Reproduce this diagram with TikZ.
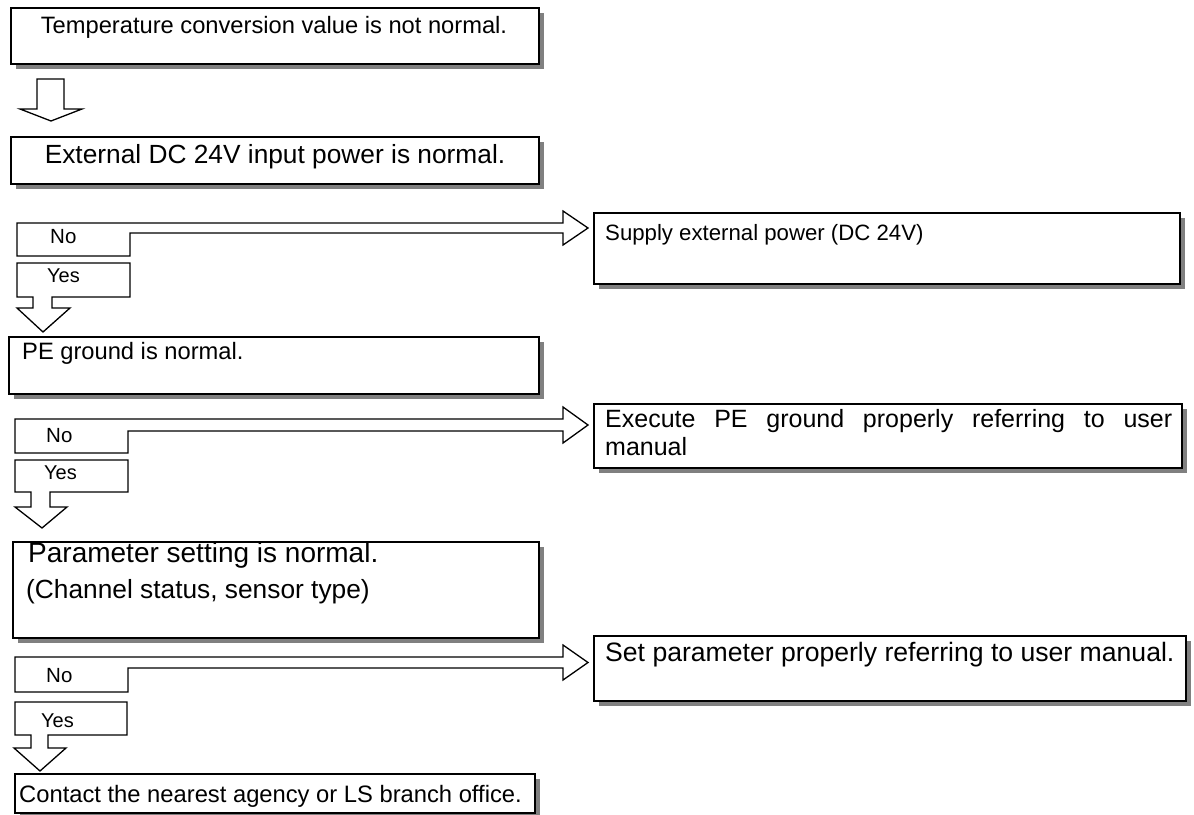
\documentclass[tikz,border=0pt]{standalone}
\usepackage{fontspec}
\setmainfont{Liberation Sans}
\usetikzlibrary{shadows}
\begin{document}
\begin{tikzpicture}[x=1pt,y=-1pt,
  box/.style={draw=black, line width=1.6pt, fill=white, rectangle, anchor=north west, inner sep=0pt,
    drop shadow={shadow xshift=5pt, shadow yshift=-5pt, fill=black!50, opacity=1}},
  blockarrow/.style={draw=black, line width=1.3pt, fill=white, line join=miter},
  txt/.style={inner sep=0pt, anchor=base west},
  ctxt/.style={inner sep=0pt, anchor=base}]
\useasboundingbox (0,0) rectangle (1194,814);

% boxes
\node[box, minimum width=528pt, minimum height=56pt] (b1) at (10,7) {};
\node[box, minimum width=528pt, minimum height=47pt] (b2) at (10,136) {};
\node[box, minimum width=586pt, minimum height=71pt] (s1) at (593,212) {};
\node[box, minimum width=530pt, minimum height=57pt] (b3) at (8,336) {};
\node[box, minimum width=588pt, minimum height=64pt] (s2) at (593,403) {};
\node[box, minimum width=526pt, minimum height=96pt] (b4) at (12,541) {};
\node[box, minimum width=592pt, minimum height=65pt] (s3) at (593,635) {};
\node[box, minimum width=520pt, minimum height=39pt] (b5) at (14,773) {};

% texts
\node[ctxt, font=\fontsize{23.7}{28}\selectfont] (t1) at (274,33) {Temperature conversion value is not normal.};
\node[ctxt, font=\fontsize{26.3}{30}\selectfont] (t2) at (275,163) {External DC 24V input power is normal.};
\node[txt, font=\fontsize{22.2}{26}\selectfont] (ts1) at (605,240) {Supply external power (DC 24V)};
\node[txt, font=\fontsize{23.7}{28}\selectfont] (t3) at (22,359) {PE ground is normal.};
\node[txt, font=\fontsize{25}{28}\selectfont] (ts2a) at (605,427) {\makebox[567pt][s]{Execute PE ground properly referring to user}};
\node[txt, font=\fontsize{25}{28}\selectfont] (ts2b) at (605,455) {manual};
\node[txt, font=\fontsize{28}{32}\selectfont] (t4a) at (28,562) {Parameter setting is normal.};
\node[txt, font=\fontsize{26.3}{30}\selectfont] (t4b) at (26,598) {(Channel status, sensor type)};
\node[txt, font=\fontsize{26.6}{30}\selectfont] (ts3) at (605,661) {Set parameter properly referring to user manual.};
\node[txt, font=\fontsize{23.75}{28}\selectfont] (t5) at (19,802) {Contact the nearest agency or LS branch office.};

% top down arrow
\draw[blockarrow] (37,79) -- (64,79) -- (64,109) -- (82,109) -- (51,121) -- (20,109) -- (37,109) -- cycle;

% decision 1
\draw[blockarrow] (17,223) -- (563,223) -- (563,211) -- (588,228) -- (563,245) -- (563,233) -- (130,233) -- (130,256) -- (17,256) -- cycle;
\draw[blockarrow] (17,263) -- (130,263) -- (130,297) -- (52,297) -- (52,308) -- (70,308) -- (43,332) -- (17,308) -- (33,308) -- (33,297) -- (17,297) -- cycle;
\node[txt, font=\fontsize{20.5}{24}\selectfont] (no1) at (50,243) {No};
\node[txt, font=\fontsize{20}{24}\selectfont] (yes1) at (47,282) {Yes};

% decision 2
\draw[blockarrow] (15,419) -- (563,419) -- (563,407) -- (588,425) -- (563,443) -- (563,431) -- (128,431) -- (128,453) -- (15,453) -- cycle;
\draw[blockarrow] (15,460) -- (128,460) -- (128,492) -- (50,492) -- (50,507) -- (67,507) -- (42,528) -- (15,507) -- (31,507) -- (31,492) -- (15,492) -- cycle;
\node[txt, font=\fontsize{20.5}{24}\selectfont] (no2) at (46,442) {No};
\node[txt, font=\fontsize{20}{24}\selectfont] (yes2) at (44,479) {Yes};

% decision 3
\draw[blockarrow] (15,657) -- (563,657) -- (563,645) -- (588,662.5) -- (563,680) -- (563,668) -- (128,668) -- (128,692) -- (15,692) -- cycle;
\draw[blockarrow] (15,702) -- (127,702) -- (127,735) -- (48,735) -- (48,748) -- (66,748) -- (40,771) -- (14,748) -- (31,748) -- (31,735) -- (15,735) -- cycle;
\node[txt, font=\fontsize{20.5}{24}\selectfont] (no3) at (46,682) {No};
\node[txt, font=\fontsize{20}{24}\selectfont] (yes3) at (41,727) {Yes};
\end{tikzpicture}
\end{document}
